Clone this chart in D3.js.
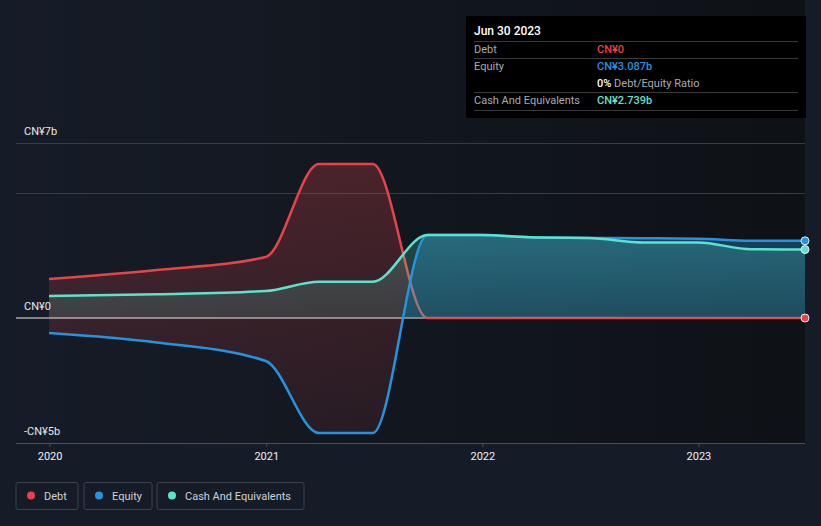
<!DOCTYPE html>
<html><head><meta charset="utf-8">
<script src="https://cdn.jsdelivr.net/npm/d3@7"></script>
<style>
html,body{margin:0;padding:0;background:#161c27;}
svg{display:block;font-family:Roboto, "Noto Sans", sans-serif;}
</style></head>
<body>
<svg id="chart" width="821" height="526"></svg>
<script>
const dates = ["2019-12-31","2020-06-30","2020-12-31","2021-03-31","2021-06-30","2021-09-30","2021-12-31","2022-03-31","2022-06-30","2022-09-30","2022-12-31","2023-03-31","2023-06-30"];
const debt   = [1.56, 1.92, 2.44, 6.16, 6.16, 0, 0, 0, 0, 0, 0, 0, 0];
const equity = [-0.60, -0.98, -1.72, -4.60, -4.60, 3.32, 3.32, 3.22, 3.20, 3.19, 3.17, 3.09, 3.087];
const cash   = [0.88, 0.95, 1.08, 1.45, 1.45, 3.32, 3.32, 3.22, 3.20, 3.02, 3.02, 2.75, 2.739];
const yTickValues = [7, 0, -5];
const yTickLabels = ["CN¥7b", "CN¥0", "-CN¥5b"];
const xTickYears = [2020, 2021, 2022, 2023];
const seriesNames = ["Debt", "Equity", "Cash And Equivalents"];
const seriesColors = ["#e5444a", "#2394df", "#5de3cc"];
const tooltipRows = [
  {label:"Debt", value:"CN¥0", color:"#e5444a"},
  {label:"Equity", value:"CN¥3.087b", color:"#2394df"},
  {label:"", value:"0%", extra:" Debt/Equity Ratio", color:"#ffffff"},
  {label:"Cash And Equivalents", value:"CN¥2.739b", color:"#5de3cc"}
];

(function(){
const parse = d3.timeParse("%Y-%m-%d");
const data = dates.map((d,i)=>({date:parse(d), debt:debt[i], equity:equity[i], cash:cash[i]}));

const svg = d3.select("#chart");
const pL=16, pR=805, pT=143, pB=443;
const x = d3.scaleTime().domain([parse(dates[0]), parse(dates[dates.length-1])]).range([49, 805]);
const y = d3.scaleLinear().domain([-5, 7]).range([pB, pT]);

const defs = svg.append("defs");
const bgG = defs.append("linearGradient").attr("id","bgGrad").attr("x1","0").attr("x2","1").attr("y1","0").attr("y2","0");
bgG.append("stop").attr("offset","0").attr("stop-color","#161c27");
bgG.append("stop").attr("offset","1").attr("stop-color","#0e1116");

function vGrad(id, color, a0, a1, v0, v1){
  const g = defs.append("linearGradient").attr("id",id).attr("gradientUnits","userSpaceOnUse")
    .attr("x1",0).attr("x2",0).attr("y1",y(v0)).attr("y2",y(v1));
  g.append("stop").attr("offset","0").attr("stop-color",color).attr("stop-opacity",a0);
  g.append("stop").attr("offset","1").attr("stop-color",color).attr("stop-opacity",a1);
}
vGrad("redGrad", "#e5444a", 0.27, 0.09, 6.5, -5);
vGrad("blueGrad", "#2394df", 0.36, 0.26, 3.4, 0);
vGrad("cashGrad", "#5de3cc", 0.24, 0.14, 3.4, 0);

svg.append("rect").attr("x",pL).attr("y",0).attr("width",pR-pL).attr("height",pB).attr("fill","url(#bgGrad)");

[7,5].forEach(v=>{
  svg.append("line").attr("x1",pL).attr("x2",pR).attr("y1",y(v)+0.5).attr("y2",y(v)+0.5)
    .attr("stroke","#373c45").attr("stroke-width",1);
});

const curve = d3.curveMonotoneX;
defs.append("clipPath").attr("id","belowDebt").append("path")
  .attr("d", d3.area().curve(curve).x(d=>x(d.date)).y0(pB+10).y1(d=>y(d.debt))(data));
svg.append("path").attr("clip-path","url(#belowDebt)")
  .attr("d", d3.area().curve(curve).x(d=>x(d.date)).y0(d=>y(d.equity)).y1(0)(data))
  .attr("fill","url(#redGrad)");

svg.append("line").attr("x1",pL).attr("x2",pR).attr("y1",y(0)).attr("y2",y(0))
  .attr("stroke","#f4e8e8").attr("stroke-width",1.2);

const lineGen = key => d3.line().curve(curve).x(d=>x(d.date)).y(d=>y(d[key]));
svg.append("path").attr("d", lineGen("debt")(data)).attr("fill","none")
  .attr("stroke",seriesColors[0]).attr("stroke-width",2.5);

defs.append("clipPath").attr("id","abovZero").append("rect").attr("x",0).attr("y",0).attr("width",821).attr("height",y(0));
svg.append("path").attr("clip-path","url(#abovZero)")
  .attr("d", d3.area().curve(curve).x(d=>x(d.date)).y0(y(0)).y1(d=>y(d.equity))(data))
  .attr("fill","url(#blueGrad)");
svg.append("path")
  .attr("d", d3.area().curve(curve).x(d=>x(d.date)).y0(y(0)).y1(d=>y(d.cash))(data))
  .attr("fill","url(#cashGrad)");

svg.append("path").attr("d", lineGen("equity")(data)).attr("fill","none")
  .attr("stroke",seriesColors[1]).attr("stroke-width",2.5);
svg.append("path").attr("d", lineGen("cash")(data)).attr("fill","none")
  .attr("stroke",seriesColors[2]).attr("stroke-width",2.5);

const last = data[data.length-1];
[["debt",0],["cash",2],["equity",1]].forEach(([k,i])=>{
  svg.append("circle").attr("cx",x(last.date)).attr("cy",y(last[k])).attr("r",4)
    .attr("fill",seriesColors[i]).attr("stroke","#e8eef2").attr("stroke-width",1);
});

yTickValues.forEach((v,i)=>{
  svg.append("text").attr("x",24).attr("y",y(v)-8).text(yTickLabels[i])
    .attr("fill","#e6e8ea").attr("font-size",11);
});

const xAxis = d3.axisBottom(x).tickValues(xTickYears.map(yy=>new Date(yy,0,1)))
  .tickFormat(d3.timeFormat("%Y")).tickSize(4).tickSizeOuter(0);
const ax = svg.append("g").attr("transform",`translate(0,${pB})`).call(xAxis);
ax.select(".domain").remove();
ax.selectAll(".tick line").attr("stroke","#4a4f58");
ax.selectAll(".tick text").attr("fill","#f0f0f0").attr("font-size",11).attr("dy","0.95em").attr("font-family","Roboto");
svg.append("line").attr("x1",pL).attr("x2",pR).attr("y1",pB+0.5).attr("y2",pB+0.5)
  .attr("stroke","#4a4f58").attr("stroke-width",1);

let lx = 16;
const widths = [62, 68, 147];
seriesNames.forEach((n,i)=>{
  const g = svg.append("g").attr("transform",`translate(${lx},482.5)`);
  g.append("rect").attr("width",widths[i]).attr("height",27).attr("rx",2)
    .attr("fill","none").attr("stroke","#3c414b");
  g.append("circle").attr("cx",15).attr("cy",13).attr("r",4).attr("fill",seriesColors[i]);
  g.append("text").attr("x",28).attr("y",17).text(n).attr("fill","#cfd2d6").attr("font-size",11);
  lx += widths[i] + (i===0?6:5);
});

const tt = svg.append("g");
tt.append("rect").attr("x",466).attr("y",16).attr("width",340).attr("height",102).attr("fill","#000");
tt.append("text").attr("x",474).attr("y",35).text("Jun 30 2023").attr("fill","#fff").attr("font-size",12).attr("font-weight",500);
[41.5, 58.5, 92.5, 110.5].forEach(ly=>{
  tt.append("line").attr("x1",474).attr("x2",798).attr("y1",ly).attr("y2",ly).attr("stroke","#3a3a3a");
});
const rowY = [53, 70, 87, 104];
tooltipRows.forEach((r,i)=>{
  if(r.label) tt.append("text").attr("x",474).attr("y",rowY[i]).text(r.label).attr("fill","#a8abb0").attr("font-size",11);
  const t = tt.append("text").attr("x",597).attr("y",rowY[i]).attr("font-size",11);
  t.append("tspan").text(r.value).attr("fill",r.color).attr("font-weight",500);
  if(r.extra) t.append("tspan").text(r.extra).attr("fill","#a8abb0");
});
})();
</script>
</body></html>
